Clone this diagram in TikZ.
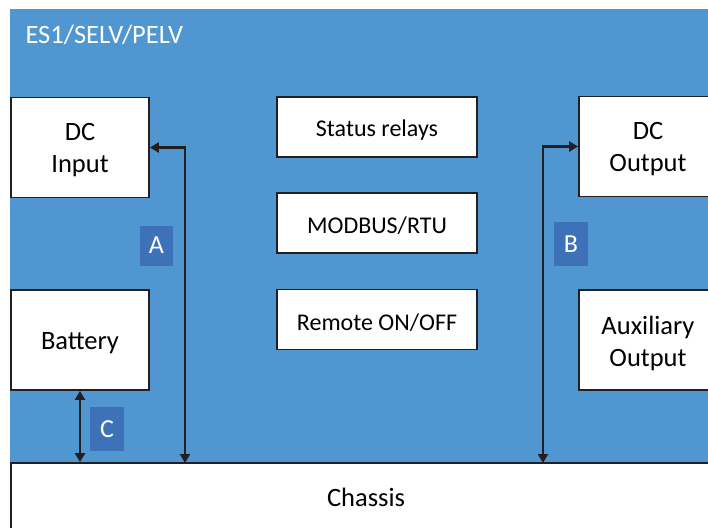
\documentclass[tikz,border=0pt]{standalone}
\usepackage{fontspec}
\setmainfont{Carlito}
\usetikzlibrary{arrows.meta}
\definecolor{bgblue}{RGB}{80,150,208}
\definecolor{lblblue}{RGB}{61,113,184}
\definecolor{ink}{RGB}{35,31,32}
\begin{document}
\begin{tikzpicture}[x=1pt, y=-1pt,
    block/.style={fill=white, draw=ink, line width=1.8pt, inner sep=0pt},
    bigtext/.style={align=center, yshift=-3pt, font=\fontsize{26.5}{32}\selectfont},
    midtext/.style={align=center, yshift=-3pt, font=\fontsize{24}{28}\selectfont},
    bigblock/.style={block, minimum width=138pt, minimum height=100pt, label={[bigtext]center:#1}},
    midblock/.style={block, minimum width=200pt, minimum height=60pt, label={[midtext]center:#1}},
    tag/.style={fill=lblblue, text=white, inner sep=0pt, font=\fontsize{26}{30}\selectfont},
    link/.style={draw=ink, line width=2.6pt, {Triangle[length=9pt,width=10pt]}-{Triangle[length=9pt,width=10pt]}}]
\clip (0,0) rectangle (708,527);
\fill[white] (0,0) rectangle (708,527);
\fill[bgblue] (10,9) rectangle (708,463);
\node[text=white, anchor=west, font=\fontsize{26.5}{30}\selectfont] (title) at (22,35) {ES1/SELV/PELV};

\node[bigblock={DC\\Input}]         (dcin)   at (80,147.5) {};
\node[bigblock={Battery}]           (bat)    at (80,340) {};
\node[bigblock={DC\\Output}]        (dcout)  at (648,146.5) {};
\node[bigblock={Auxiliary\\Output}] (aux)    at (648,340) {};
\node[midblock={Status relays}]     (relay)  at (377,127) {};
\node[midblock={MODBUS/RTU}]        (modb)   at (377,223) {};
\node[midblock={Remote ON/OFF}]     (remote) at (377,319.5) {};
\node[block, minimum width=710pt, minimum height=70pt] (chassis) at (366,498) {};
\node[font=\fontsize{26.5}{30}\selectfont] (chtext) at (366,497) {Chassis};

\node[tag, minimum width=33pt, minimum height=40pt] (A) at (156.5,245.5) {A};
\node[tag, minimum width=34pt, minimum height=44pt] (B) at (571,244) {B};
\node[tag, minimum width=34pt, minimum height=44pt] (C) at (107,429) {C};

\coordinate (abot) at (185,463);
\coordinate (bbot) at (543,463);
\draw[link] (dcin.east) -| (abot);
\draw[link] (dcout.west) -| (bbot);
\draw[link] (bat.south) -- (bat.south |- chassis.north);
\end{tikzpicture}
\end{document}
